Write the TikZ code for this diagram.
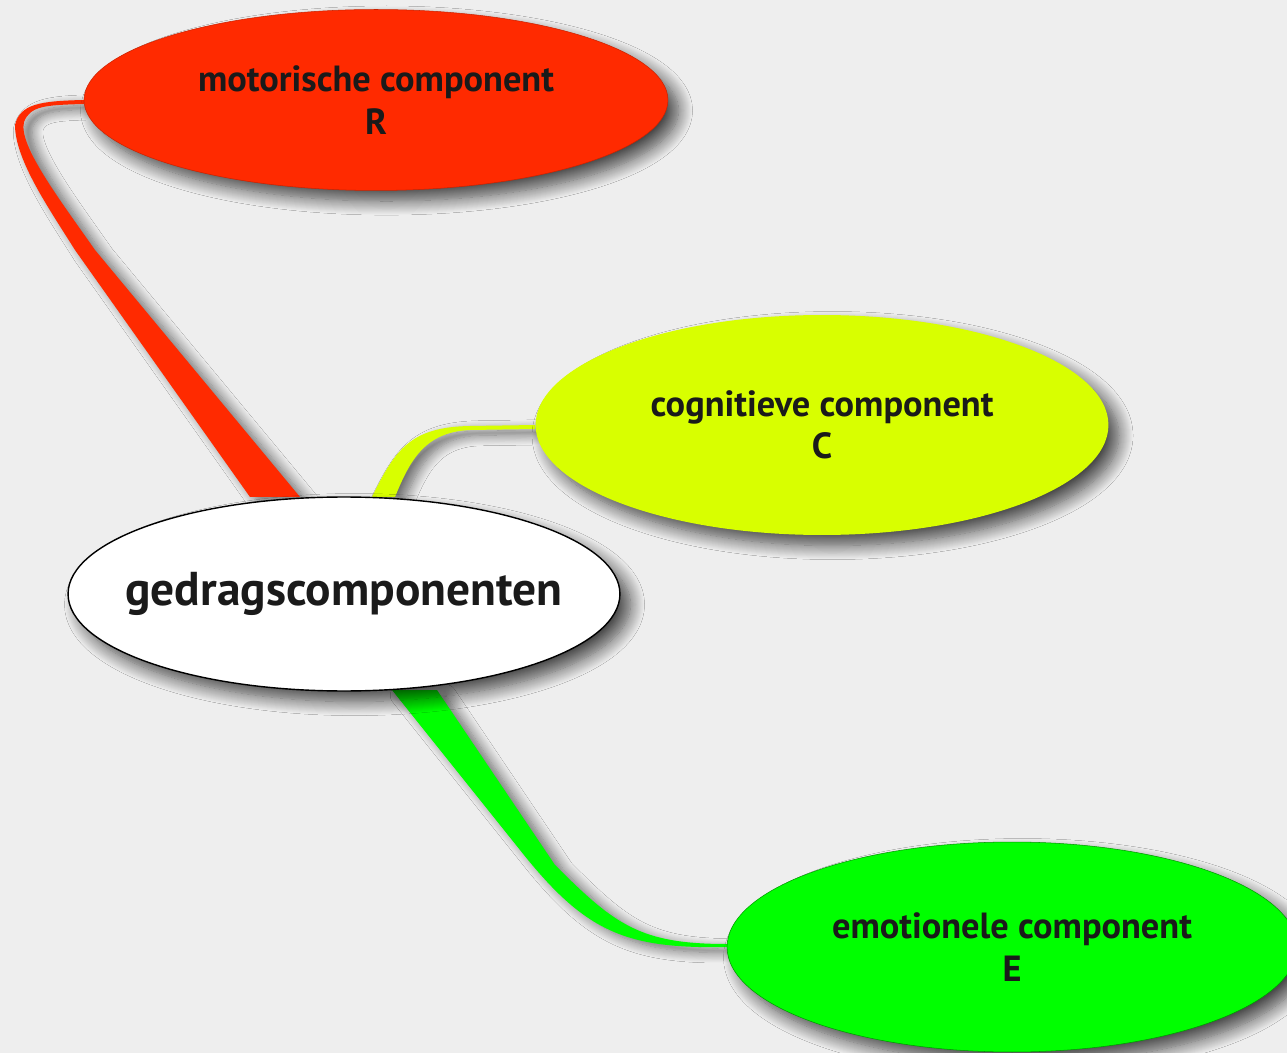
\documentclass[tikz,border=0pt]{standalone}
\usepackage{fontspec}
\setmainfont{PT Sans}
\usetikzlibrary{shapes.geometric,shadows.blur,backgrounds}

\definecolor{motorred}{HTML}{FF2A00}
\definecolor{cognyellow}{HTML}{D8FF00}
\definecolor{emotgreen}{HTML}{00FF00}
\definecolor{paper}{HTML}{EEEEEE}
\definecolor{inkdark}{HTML}{1A1A1A}

\tikzset{
  comp/.style={ellipse, inner sep=0pt,
    blur shadow={shadow xshift=6pt, shadow yshift=-6pt, shadow blur radius=8pt, shadow blur steps=15, shadow opacity=70}},
  comptext/.style={label={[align=center, text=inkdark, font=\bfseries\fontsize{20.7}{24}\selectfont]center:#1}},
  root/.style={comp, fill=white, draw=black, line width=0.8pt},
  roottext/.style={label={[text=inkdark, font=\bfseries\fontsize{27}{30}\selectfont]center:#1}},
  branch/.style={blur shadow={shadow xshift=5pt, shadow yshift=-3pt, shadow blur radius=6pt, shadow blur steps=12, shadow opacity=55}}
}

\begin{document}
\begin{tikzpicture}[x=0.02cm, y=-0.02cm]
  \useasboundingbox (0,0) rectangle (1287,1053);

  \node[comp, fill=motorred, draw=motorred!80!black, line width=0.3pt,
        minimum width=11.68cm, minimum height=3.62cm,
        comptext={motorische component\\R}] (motor) at (376,100) {};
  \node[comp, fill=cognyellow, minimum width=11.46cm, minimum height=4.4cm,
        comptext={cognitieve component\\C}] (cogn) at (822,425) {};
  \node[root, minimum width=11.04cm, minimum height=3.88cm,
        roottext={gedragscomponenten}] (gedrag) at (344,594) {};
  \node[comp, fill=emotgreen, draw=emotgreen!60!black, line width=0.3pt,
        minimum width=11.4cm, minimum height=4.2cm,
        comptext={emotionele component\\E}] (emot) at (1012,947) {};

  % branches behind the ellipses
  \begin{scope}[on background layer]
    \fill[paper] (0,0) rectangle (1287,1053);
    \coordinate (rootR) at (250,497);
    \coordinate (rootC) at (372,497);
    \coordinate (rootE) at (392,690);
    \fill[motorred, branch] (rootR) -- (75,250) .. controls (50,210) and (15,160) .. (15,125)
      .. controls (20,104) and (40,101) .. (motor.west) -- ++(0,4)
      .. controls (45,105) and (30,106) .. (24,122) .. controls (18,145) and (60,200) .. (95,250)
      -- (300,497) -- cycle;
    \fill[cognyellow, branch] (rootC) .. controls (395,450) and (410,427) .. (470,426) -- (cogn.west)
      -- ++(0,4) -- (470,430) .. controls (425,432) and (410,460) .. (395,497) -- cycle;
    \fill[emotgreen, branch] (rootE) -- (520,850) .. controls (585,932) and (625,949) .. (emot.west)
      -- ++(0,-3) .. controls (640,944) and (615,925) .. (555,865) -- (437,690) -- cycle;
  \end{scope}
\end{tikzpicture}
\end{document}
